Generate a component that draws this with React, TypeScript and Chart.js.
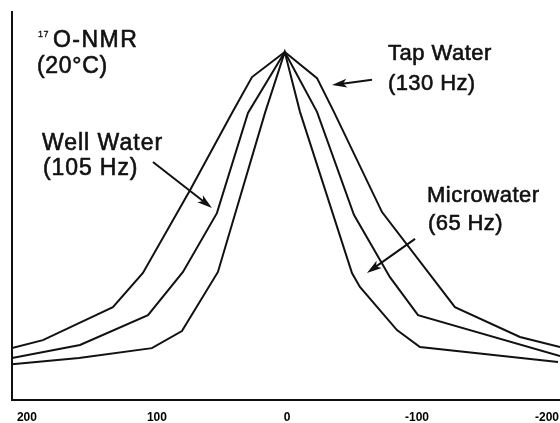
import { useEffect, useRef } from "react";
import { Chart, registerables } from "chart.js";

Chart.register(...registerables);

// Chemical shift (Hz, axis reversed) and normalised intensity of each spectrum
const tapWaterHz = [213.8, 190.0, 162.3, 136.2, 113.1, 76.9, 44.6, 29.2, 4, -20.8, -33.8, -70.8, -126.9, -176.9, -207.7];
const tapWaterI = [0.149, 0.172, 0.221, 0.267, 0.365, 0.603, 0.825, 0.928, 1.0, 0.925, 0.828, 0.54, 0.267, 0.181, 0.152];

const wellWaterHz = [213.8, 161.5, 109.2, 82.3, 56.2, 32.3, 4, -20.8, -49.2, -76.9, -98.5, -207.7];
const wellWaterI = [0.121, 0.158, 0.244, 0.368, 0.537, 0.825, 1.0, 0.828, 0.532, 0.353, 0.244, 0.126];

const microwaterHz = [213.8, 162.3, 106.2, 83.1, 55.4, 19.2, 4, -7.7, -47.7, -53.8, -82.3, -100.0, -206.2];
const microwaterI = [0.103, 0.121, 0.149, 0.198, 0.368, 0.825, 1.0, 0.828, 0.365, 0.325, 0.201, 0.152, 0.109];

const xTickValues = [200, 100, 0, -100, -200];

const X_MIN = -207.7;
const X_MAX = 213.8;
const Y_MAX = 1.115;

// Annotation texts (data coordinates of the left/baseline point)
const labels = [
  { text: "17", x: 193.8, y: 1.043, size: 9, spacing: 0.5 },
  { text: "O-NMR", x: 182.3, y: 1.014, size: 23, spacing: 1.5 },
  { text: "(20°C)", x: 194.6, y: 0.94, size: 23, spacing: 0.7 },
  { text: "Well Water", x: 190.8, y: 0.718, size: 23, spacing: 1 },
  { text: "(105 Hz)", x: 190.0, y: 0.647, size: 23, spacing: 0.9 },
  { text: "Tap Water", x: -75.4, y: 0.976, size: 22, spacing: 0.5 },
  { text: "(130 Hz)", x: -75.4, y: 0.891, size: 22, spacing: 0.4 },
  { text: "Microwater", x: -105.4, y: 0.569, size: 22, spacing: 0.5 },
  { text: "(65 Hz)", x: -106.2, y: 0.489, size: 22, spacing: 0.4 },
];

// Arrows: tail -> tip in data coordinates
const arrows = [
  { x1: -63.1, y1: 0.92, x2: -32.3, y2: 0.905 },
  { x1: 105.4, y1: 0.684, x2: 60.0, y2: 0.552 },
  { x1: -96.2, y1: 0.463, x2: -59.2, y2: 0.365 },
];

function pts(xs: number[], ys: number[]) {
  return xs.map((x, i) => ({ x, y: ys[i] }));
}

const annotationPlugin = {
  id: "nmrAnnotations",
  afterDatasetsDraw(chart: any) {
    const { ctx } = chart;
    const xs = chart.scales.x;
    const ys = chart.scales.y;
    ctx.save();
    ctx.fillStyle = "#111";
    ctx.strokeStyle = "#111";
    ctx.textBaseline = "alphabetic";
    ctx.textAlign = "left";
    ctx.lineJoin = "round";
    for (const l of labels) {
      ctx.font = `${l.size}px "Liberation Sans", Arial, sans-serif`;
      try {
        (ctx as any).letterSpacing = `${l.spacing}px`;
      } catch (e) {}
      const px = xs.getPixelForValue(l.x);
      const py = ys.getPixelForValue(l.y);
      ctx.fillText(l.text, px, py);
      ctx.lineWidth = l.size > 12 ? 0.6 : 0.3;
      ctx.strokeText(l.text, px, py);
    }
    try {
      (ctx as any).letterSpacing = "0px";
    } catch (e) {}
    ctx.lineWidth = 2;
    for (const a of arrows) {
      const x1 = xs.getPixelForValue(a.x1);
      const y1 = ys.getPixelForValue(a.y1);
      const x2 = xs.getPixelForValue(a.x2);
      const y2 = ys.getPixelForValue(a.y2);
      const ang = Math.atan2(y2 - y1, x2 - x1);
      const c = Math.cos(ang);
      const s = Math.sin(ang);
      const hl = 15;
      const hw = 4.5;
      ctx.beginPath();
      ctx.moveTo(x1, y1);
      ctx.lineTo(x2 - c * hl * 0.7, y2 - s * hl * 0.7);
      ctx.stroke();
      ctx.beginPath();
      ctx.moveTo(x2, y2);
      ctx.lineTo(x2 - c * hl - s * hw, y2 - s * hl + c * hw);
      ctx.lineTo(x2 - c * hl * 0.75, y2 - s * hl * 0.75);
      ctx.lineTo(x2 - c * hl + s * hw, y2 - s * hl - c * hw);
      ctx.closePath();
      ctx.fill();
    }
    ctx.restore();
  },
};

export default function App() {
  const canvasRef = useRef<HTMLCanvasElement | null>(null);

  useEffect(() => {
    if (!canvasRef.current) return;
    const lineStyle = {
      showLine: true,
      borderColor: "#111",
      borderWidth: 2,
      pointRadius: 0,
      tension: 0,
      fill: false,
    };
    const chart = new Chart(canvasRef.current, {
      type: "scatter",
      data: {
        datasets: [
          { label: "Tap Water", data: pts(tapWaterHz, tapWaterI), ...lineStyle },
          { label: "Well Water", data: pts(wellWaterHz, wellWaterI), ...lineStyle },
          { label: "Microwater", data: pts(microwaterHz, microwaterI), ...lineStyle },
        ],
      },
      options: {
        animation: false,
        responsive: true,
        maintainAspectRatio: false,
        layout: { padding: { left: 12, top: 12, right: 0, bottom: 0 } },
        plugins: {
          legend: { display: false },
          tooltip: { enabled: false },
        },
        scales: {
          x: {
            type: "linear",
            reverse: true,
            min: X_MIN,
            max: X_MAX,
            afterBuildTicks: (scale: any) => {
              scale.ticks = xTickValues.map((v) => ({ value: v }));
            },
            afterFit: (scale: any) => {
              scale.height = 23;
              scale.paddingLeft = 0;
              scale.paddingRight = 0;
            },
            ticks: {
              includeBounds: false,
              autoSkip: false,
              maxRotation: 0,
              labelOffset: -3,
              color: "#000",
              padding: 10,
              font: { family: '"Liberation Sans", Arial, sans-serif', size: 12, weight: "bold" },
              callback: (v: any) => String(v),
            },
            grid: { display: false, drawTicks: false },
            border: { display: true, color: "#111", width: 2 },
          },
          y: {
            type: "linear",
            min: 0,
            max: Y_MAX,
            afterFit: (scale: any) => {
              scale.width = 0;
              scale.paddingTop = 0;
              scale.paddingBottom = 0;
            },
            ticks: { display: false },
            grid: { display: false, drawTicks: false },
            border: { display: true, color: "#111", width: 2 },
          },
        },
      },
      plugins: [annotationPlugin],
    });
    return () => chart.destroy();
  }, []);

  return (
    <div style={{ position: "fixed", left: 0, top: 0, width: 560, height: 423, background: "#fff" }}>
      <canvas ref={canvasRef} />
    </div>
  );
}
